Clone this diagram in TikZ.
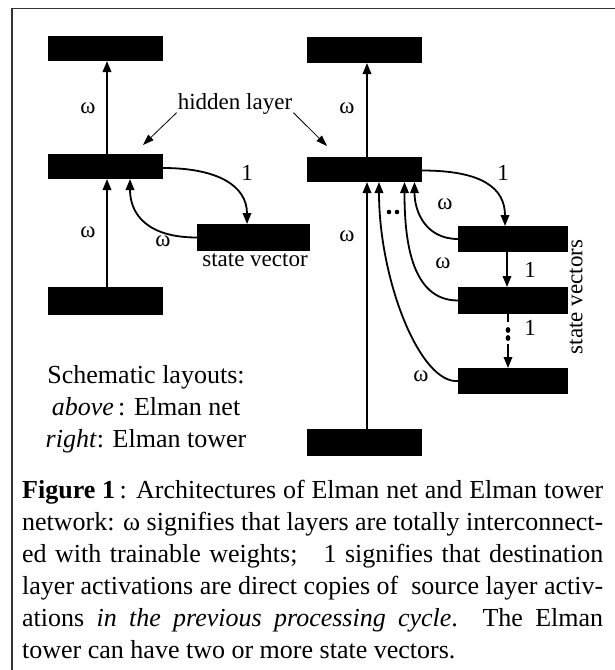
\documentclass[tikz,border=0pt]{standalone}
\usepackage{fontspec}
\setmainfont{Liberation Serif}
\usetikzlibrary{arrows.meta}
\begin{document}
\begin{tikzpicture}[x=1pt,y=-1pt,
  lyr/.style={fill=black,inner sep=0pt,outer sep=0pt,minimum width=115pt,minimum height=25pt},
  conn/.style={line width=1.8pt,-{Triangle[length=11pt,width=8.5pt]}},
  thinarrow/.style={line width=0.8pt,-{Triangle[length=11pt,width=7.5pt]}},
  lbl/.style={font=\fontsize{23}{26}\selectfont,inner sep=0pt},
  schem/.style={font=\fontsize{26}{32}\selectfont,inner sep=0pt,anchor=base},
  capl/.style={font=\fontsize{26}{32}\selectfont,inner sep=0pt,anchor=base west}]
\useasboundingbox (0,0) rectangle (615,670);
\draw[line width=1.3pt,black!80] (12,670) -- (12,8.5) -- (615,8.5);
% layers
\node[lyr] (LT) at (105.5,48.5) {};
\node[lyr] (LH) at (105.5,166.5) {};
\node[lyr,minimum height=28pt] (LB) at (105.5,301) {};
\node[lyr,minimum width=113pt,minimum height=27pt] (LS) at (253.5,237.5) {};
\node[lyr,minimum height=26pt] (RT) at (364.5,50) {};
\node[lyr] (RH) at (364.5,169.5) {};
\node[lyr,minimum height=27pt] (RB) at (364.5,442.5) {};
\node[lyr,minimum width=110pt,minimum height=26pt] (S1) at (513,239) {};
\node[lyr,minimum width=110pt,minimum height=27pt] (S2) at (513,300.5) {};
\node[lyr,minimum width=110pt,minimum height=26pt] (S3) at (513,381) {};
% left net connectors
\draw[conn] ([xshift=1.5pt]LB.north) -- ([xshift=1.5pt]LH.south);
\draw[conn] ([xshift=1.5pt]LH.north) -- ([xshift=1.5pt]LT.south);
\draw[conn] ([yshift=-1.5pt]LH.east) .. controls +(55,0) and +(0,-38) .. ([xshift=-6.5pt]LS.north);
\draw[conn] (LS.west) .. controls +(-50,0) and +(0,35) .. ([xshift=24.5pt]LH.south);
% right net connectors
\draw[conn] ([xshift=2.5pt]RB.north) -- ([xshift=2.5pt]RH.south);
\draw[conn] ([xshift=2.5pt]RH.north) -- ([xshift=2.5pt]RT.south);
\draw[conn] ([yshift=-1pt]RH.east) .. controls +(60,0) and +(0,-38) .. ([xshift=-8pt]S1.north);
\draw[conn] (S1.west) .. controls +(-32,0) and +(0,30) .. ([xshift=50pt]RH.south);
\draw[conn] (S2.west) .. controls +(-48,0) and +(0,55) .. ([xshift=40pt]RH.south);
\draw[conn] (S3.west) .. controls +(-38,3) and +(0,98) .. ([xshift=14.5pt]RH.south);
\draw[conn] ([xshift=-6pt]S1.south) -- ([xshift=-6pt]S2.north);
\draw[line width=1.8pt] ([xshift=-5pt]S2.south) -- ([xshift=-5pt,yshift=-8pt]S2.south);
\fill (508,330) ellipse [x radius=2.4pt,y radius=3pt];
\fill (508,338) ellipse [x radius=2.4pt,y radius=3pt];
\draw[conn] ([xshift=-5pt,yshift=-30pt]S2.south) -- ([xshift=-5pt]S3.north);
\fill (389,212) circle [radius=2.3pt];
\fill (397,212) circle [radius=2.3pt];
% labels
\node[lbl] (wl1) at (88,108) {ω};
\node[lbl] (wl2) at (88,232) {ω};
\node[lbl] (wl3) at (163,241) {ω};
\node[lbl] (wr1) at (347,108) {ω};
\node[lbl] (wr2) at (347,236) {ω};
\node[lbl] (ws1) at (445,204) {ω};
\node[lbl] (ws2) at (443,263) {ω};
\node[lbl] (ws3) at (421,376) {ω};
\node[lbl] (one1) at (247,173) {1};
\node[lbl] (one2) at (503,173) {1};
\node[lbl] (one3) at (530,270) {1};
\node[lbl] (one4) at (530,328) {1};
\node[lbl] (hl) at (235,104) {hidden layer};
\coordinate (hlL) at (143,145);
\coordinate (hlR) at (327,146);
\draw[thinarrow] ([xshift=-1pt,yshift=2pt]hl.south west) -- (hlL);
\draw[thinarrow] ([xshift=1pt,yshift=2pt]hl.south east) -- (hlR);
\node[lbl] (sv) at (255,260) {state vector};
\node[lbl,rotate=90] (svs) at (576,297) {state vectors};
% schematic text
\node[schem] (sch1) at (146,383) {Schematic layouts:};
\node[schem] (sch2) at (146,415) {\textit{above}\,: Elman net};
\node[schem] (sch3) at (146,447) {\textit{right}: Elman tower};
% caption
\node[capl] (c1) at (22,498) {\makebox[581pt][s]{\textbf{Figure 1}\,: Architectures of Elman net and Elman tower}};
\node[capl] (c2) at (22,530) {\makebox[581pt][s]{network: ω signifies that layers are totally interconnect-}};
\node[capl] (c3) at (22,562) {\makebox[581pt][s]{ed with trainable weights;\hspace{1em}1 signifies that destination}};
\node[capl] (c4) at (22,594) {\makebox[581pt][s]{layer activations are direct copies of \ source layer activ-}};
\node[capl] (c5) at (22,626) {\makebox[581pt][s]{ations \textit{in the previous processing cycle}.\ \ The Elman}};
\node[capl] (c6) at (22,658) {tower can have two or more state vectors.};
\end{tikzpicture}
\end{document}
